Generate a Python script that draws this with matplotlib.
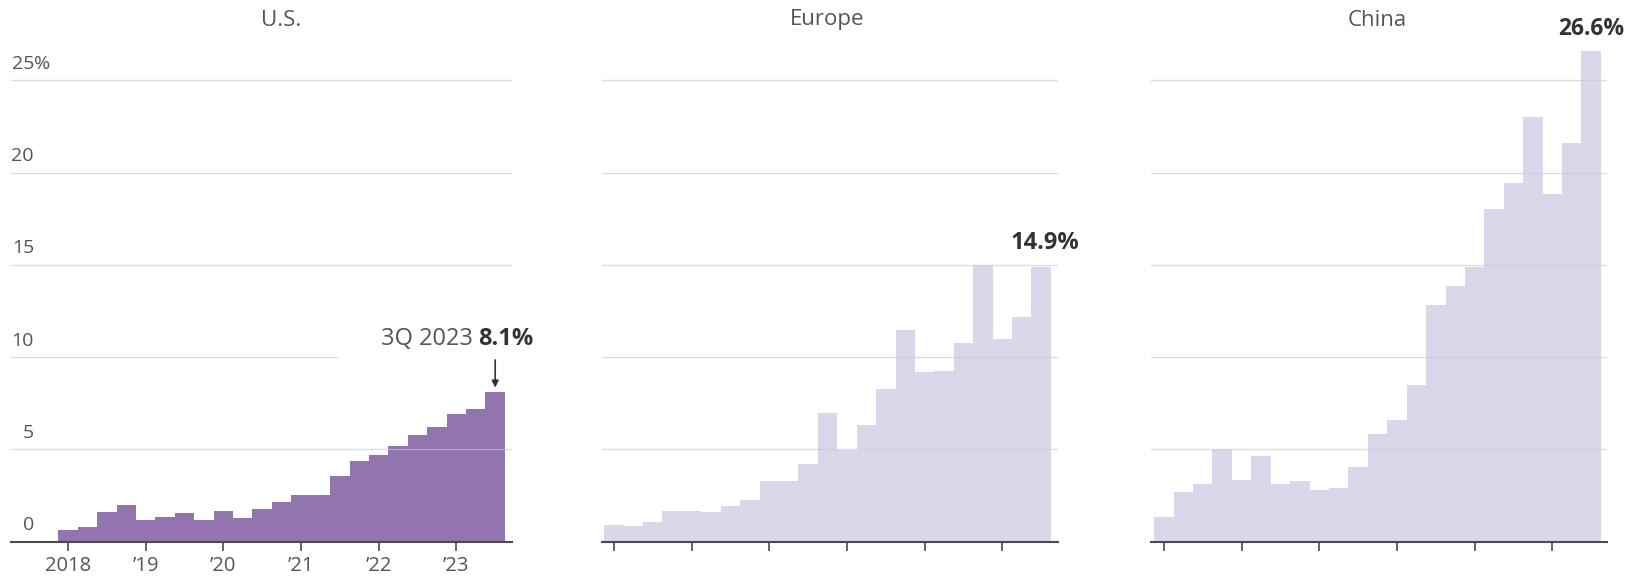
import numpy as np
import matplotlib
matplotlib.use("Agg")
import matplotlib.pyplot as plt

plt.rcParams['font.family'] = ['Open Sans', 'DejaVu Sans']

# ---- data (quarterly share, %, 1Q2018 .. 3Q2023) ----
regions = ['U.S.', 'Europe', 'China']
us = [0.64, 0.80, 1.59, 1.99, 1.15, 1.35, 1.53, 1.17, 1.69, 1.29, 1.75, 2.13,
      2.52, 2.55, 3.54, 4.35, 4.69, 5.17, 5.80, 6.20, 6.90, 7.20, 8.10]
europe = [0.89, 0.83, 1.05, 1.65, 1.66, 1.61, 1.95, 2.27, 3.30, 3.30, 4.19, 6.96,
          4.97, 6.30, 8.29, 11.49, 9.20, 9.24, 10.78, 15.00, 10.97, 12.17, 14.90]
china = [1.35, 2.68, 3.12, 5.01, 3.34, 4.67, 3.12, 3.30, 2.80, 2.92, 4.04, 5.86,
         6.62, 8.51, 12.82, 13.86, 14.87, 18.05, 19.44, 23.00, 18.85, 21.63, 26.60]
year_labels = ['2018', '\u201919', '\u201920', '\u201921', '\u201922', '\u201923']
y_ticks = [0, 5, 10, 15, 20, 25]
last_labels = ['8.1%', '14.9%', '26.6%']
us_note = '3Q 2023'

series = [us, europe, china]
colors = ['#9274ae', '#dcd6ea', '#dcd6ea']

W, H = 1642, 578
fig = plt.figure(figsize=(W / 100, H / 100), dpi=100)

base_y = 541.7
ppu = 18.45
ymax = 27
bottom = (H - base_y) / H
height = ymax * ppu / H

ax_px = [(10.7, 501), (601.7, 456), (1150.7, 456)]
xlims = [(-2.95, 22.85), (-0.63, 22.85), (-0.68, 22.8)]

grid_col = '#c9c9c9'
axis_col = '#4a4a4a'
text_col = '#555555'
dark_col = '#333333'

axes = []
for i, (vals, col) in enumerate(zip(series, colors)):
    l, w = ax_px[i]
    ax = fig.add_axes([l / W, bottom, w / W, height])
    axes.append(ax)
    n = len(vals)
    edges = np.arange(n + 1) - 0.5
    ax.stairs(vals, edges, fill=True, color=col, linewidth=0, zorder=2)
    ax.set_xlim(*xlims[i])
    ax.set_ylim(0, ymax)
    for s in ['top', 'right', 'left']:
        ax.spines[s].set_visible(False)
    ax.spines['bottom'].set_color(axis_col)
    ax.spines['bottom'].set_linewidth(1.5)
    ax.spines['bottom'].set_zorder(4)
    ax.set_yticks([])
    ax.set_xticks(np.arange(0, n, 4))
    ax.tick_params(axis='x', length=6.5, width=1.2, color=axis_col, pad=4,
                   labelsize=14.5, labelcolor=text_col)
    if i == 0:
        ax.set_xticklabels(year_labels)
    else:
        ax.set_xticklabels([''] * len(year_labels))
    # gridlines
    for v in y_ticks[1:]:
        xmax = 1.0
        if i == 0 and v == 10:
            xmax = 0.653
        ax.axhline(v, xmin=0, xmax=xmax, color=grid_col, lw=1.0, alpha=0.6, zorder=3)
    # title centred over the bars
    ttr = matplotlib.transforms.blended_transform_factory(ax.transData, fig.transFigure)
    ax.text((n - 1) / 2, 1 - 20 / H, regions[i], transform=ttr,
            ha='center', va='center', fontsize=16, color=text_col)

# y tick labels on US panel (numbers right-aligned, % overhanging)
ax0 = axes[0]
xfrac = (34 - 10.7) / 501
tr = matplotlib.transforms.blended_transform_factory(ax0.transAxes, ax0.transData)
for v in y_ticks:
    ax0.text(xfrac, v + 0.9, str(v), transform=tr, ha='right', va='center',
             fontsize=14, color=text_col)
    if v == y_ticks[-1]:
        ax0.text(xfrac, v + 0.9, '%', transform=tr, ha='left', va='center',
                 fontsize=14, color=text_col)

# U.S. annotation with arrow
n_us = len(us)
bold = ax0.text(23.96, 10.97, last_labels[0], ha='right', va='center',
                fontsize=17, fontweight='bold', color=dark_col, clip_on=False)
ax0.annotate(us_note, xy=(0, 0.5), xycoords=bold, xytext=(-4, 0),
             textcoords='offset points', ha='right', va='center',
             fontsize=17, color=text_col)
ax0.annotate('', xy=(n_us - 1, us[-1] + 0.25), xytext=(n_us - 1, 9.85),
             arrowprops=dict(arrowstyle='-|>', color=dark_col, lw=1.2,
                             mutation_scale=10, shrinkA=0, shrinkB=0))

# Europe and China end labels
axes[1].text(len(europe) - 1 + 0.2, europe[-1] + 1.3, last_labels[1], ha='center',
             va='center', fontsize=17, fontweight='bold', color=dark_col, clip_on=False)
axes[2].text(len(china) - 1, china[-1] + 1.2, last_labels[2], ha='center',
             va='center', fontsize=16.5, fontweight='bold', color=dark_col, clip_on=False)

fig.savefig('out.png', dpi=100)
